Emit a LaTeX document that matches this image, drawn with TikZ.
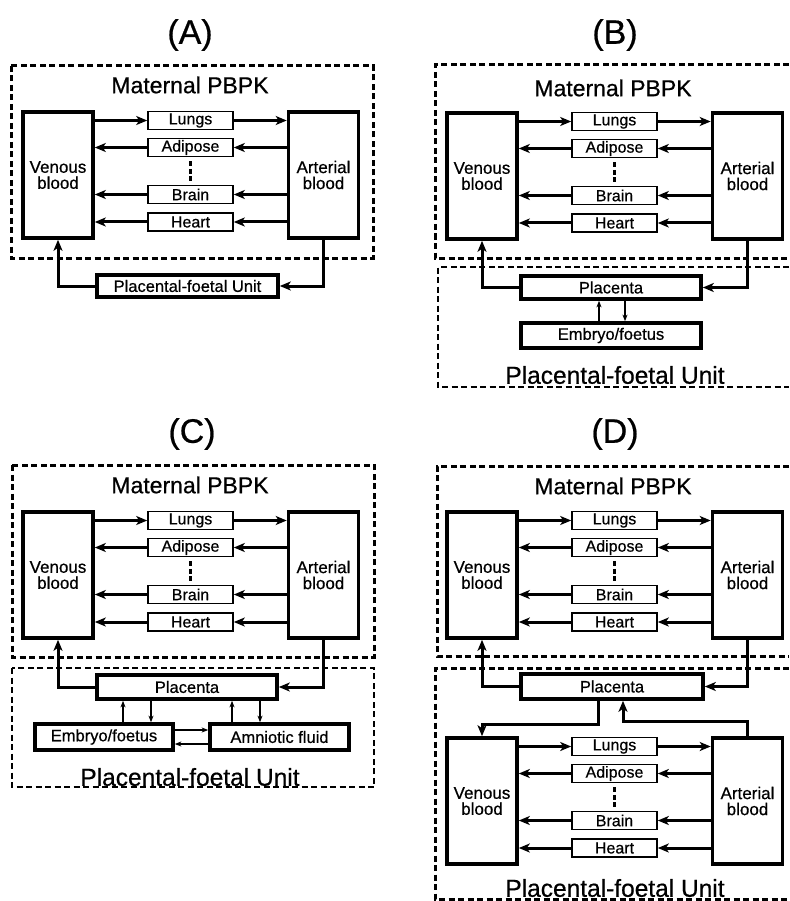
\documentclass[tikz,border=0pt]{standalone}
\usepackage{fontspec}
\setmainfont{Liberation Sans}[FakeBold=0.6]
\usetikzlibrary{arrows.meta}

\begin{document}
\begin{tikzpicture}[x=1pt, y=-1pt,
  blood/.style={draw, line width=3.6pt, minimum width=70pt, minimum height=126pt, inner sep=0pt, align=center, font=\fontsize{17}{16}\selectfont},
  organ/.style={draw, line width=1.6pt, minimum width=85pt, minimum height=18pt, inner sep=0pt, font=\fontsize{16}{16}\selectfont},
  compart/.style={draw, line width=3.6pt, minimum width=180pt, minimum height=24pt, inner sep=0pt, font=\fontsize{16.5}{16.5}\selectfont},
  flow/.style={line width=3pt, -{Stealth[length=11pt, width=9pt, inset=3pt]}},
  thinflow/.style={line width=1.3pt, -{Stealth[length=6.5pt, width=5pt, inset=1.8pt]}},
  dotcol/.style={line width=3.6pt, dash pattern=on 5pt off 2.5pt},
  matframe/.style={line width=3pt, dash pattern=on 6pt off 3.5pt},
  unitframe/.style={line width=2pt, dash pattern=on 6pt off 3.5pt},
  panellabel/.style={font=\fontsize{34}{34}\selectfont},
  heading/.style={font=\fontsize{23}{23}\selectfont},
]
\useasboundingbox (0,0) rectangle (789,901);
% one PBPK block: #1 name prefix, #2/#3 top left corner of the venous box
\def\pbpk#1#2#3{%
  \begin{scope}[shift={(#2,#3)}]
    \node[blood] (#1ven) at (35,63) {Venous\\blood};
    \node[blood] (#1art) at (300.5,63) {Arterial\\blood};
    \node[organ] (#1lungs) at (167.5,8.5) {Lungs};
    \node[organ] (#1adip) at (167.5,35.5) {Adipose};
    \node[organ] (#1brain) at (167.5,82.5) {Brain};
    \node[organ] (#1heart) at (167.5,110) {Heart};
    \draw[dotcol] ([yshift=-4pt]#1adip.south) -- ([yshift=4pt]#1brain.north);
    \draw[flow] (#1ven.east |- #1lungs.west) -- (#1lungs.west);
    \draw[flow] (#1lungs.east) -- (#1art.west |- #1lungs.east);
    \foreach \o in {adip,brain,heart} {
      \draw[flow] (#1art.west |- #1\o.east) -- (#1\o.east);
      \draw[flow] (#1\o.west) -- (#1ven.east |- #1\o.west);
    }
  \end{scope}
}

% ---- (A)
\node[panellabel] (alab) at (190,35) {(A)};
\draw[matframe] (11,66) rectangle (373,258);
\node[heading] (amat) at (190,85) {Maternal PBPK};
\pbpk{a}{23}{112}
\node[compart, minimum width=181pt, minimum height=22pt] (aunit) at (187.5,286) {Placental-foetal Unit};
\draw[flow] (aart.south) |- (aunit.east);
\draw[flow] (aunit.west) -| (aven.south);

% ---- (B)
\node[panellabel] (blab) at (615,35) {(B)};
\draw[matframe] (789,65) -- (435,65) -- (435,258) -- (789,258);
\node[heading] (bmat) at (613,88) {Maternal PBPK};
\pbpk{b}{447}{113}
\draw[unitframe] (789,267) -- (438,267) -- (438,387) -- (789,387);
\node[compart, minimum height=23pt] (bplac) at (611,287.5) {Placenta};
\node[compart, minimum height=25pt] (bemb) at (611,335.5) {Embryo/foetus};
\node[heading, font=\fontsize{24.5}{24.5}\selectfont] (bunit) at (615,375) {Placental-foetal Unit};
\draw[flow] (bart.south) |- (bplac.east);
\draw[flow] (bplac.west) -| (bven.south);
\draw[thinflow] ([xshift=-12pt]bemb.north) -- ([xshift=-12pt]bplac.south);
\draw[thinflow] ([xshift=14pt]bplac.south) -- ([xshift=14pt]bemb.north);

% ---- (C)
\node[panellabel] (clab) at (192,434) {(C)};
\draw[matframe] (12,465) rectangle (374,657);
\node[heading] (cmat) at (190,485) {Maternal PBPK};
\pbpk{c}{23}{512}
\draw[unitframe] (12,668) rectangle (374,787);
\node[compart] (cplac) at (187,687) {Placenta};
\node[compart, minimum width=138pt, minimum height=26pt] (cemb) at (104,737) {Embryo/foetus};
\node[compart, minimum width=139pt, minimum height=26pt] (camn) at (279.5,737) {Amniotic fluid};
\node[heading, font=\fontsize{24.5}{24.5}\selectfont] (cunit) at (190,777) {Placental-foetal Unit};
\draw[flow] (cart.south) |- (cplac.east);
\draw[flow] (cplac.west) -| (cven.south);
\draw[thinflow] ([xshift=-64pt]cplac.south |- cemb.north) -- ([xshift=-64pt]cplac.south);
\draw[thinflow] ([xshift=-36pt]cplac.south) -- ([xshift=-36pt]cplac.south |- cemb.north);
\draw[thinflow] ([xshift=45pt]cplac.south |- camn.north) -- ([xshift=45pt]cplac.south);
\draw[thinflow] ([xshift=73pt]cplac.south) -- ([xshift=73pt]cplac.south |- camn.north);
\draw[thinflow] ([yshift=7pt]cemb.east) -- ([yshift=7pt]camn.west);
\draw[thinflow] ([yshift=-7pt]camn.west) -- ([yshift=-7pt]cemb.east);

% ---- (D)
\node[panellabel] (dlab) at (615,434) {(D)};
\draw[matframe] (789,466) -- (437,466) -- (437,656) -- (789,656);
\node[heading] (dmat) at (613,486) {Maternal PBPK};
\pbpk{d}{447}{512}
\draw[matframe] (789,668) -- (435,668) -- (435,899) -- (789,899);
\node[compart, minimum width=182pt, minimum height=25pt] (dplac) at (612,686.5) {Placenta};
\pbpk{f}{447}{738}
\node[heading, font=\fontsize{24.5}{24.5}\selectfont] (dunit) at (615,888) {Placental-foetal Unit};
\draw[flow] (dart.south) |- (dplac.east);
\draw[flow] (dplac.west) -| (dven.south);
\draw[flow] ([xshift=-14pt]dplac.south) -- ++(0,24) -| (fven.north);
\draw[flow] (fart.north) -- ++(0,-15) -| ([xshift=11pt]dplac.south);
\end{tikzpicture}
\end{document}
